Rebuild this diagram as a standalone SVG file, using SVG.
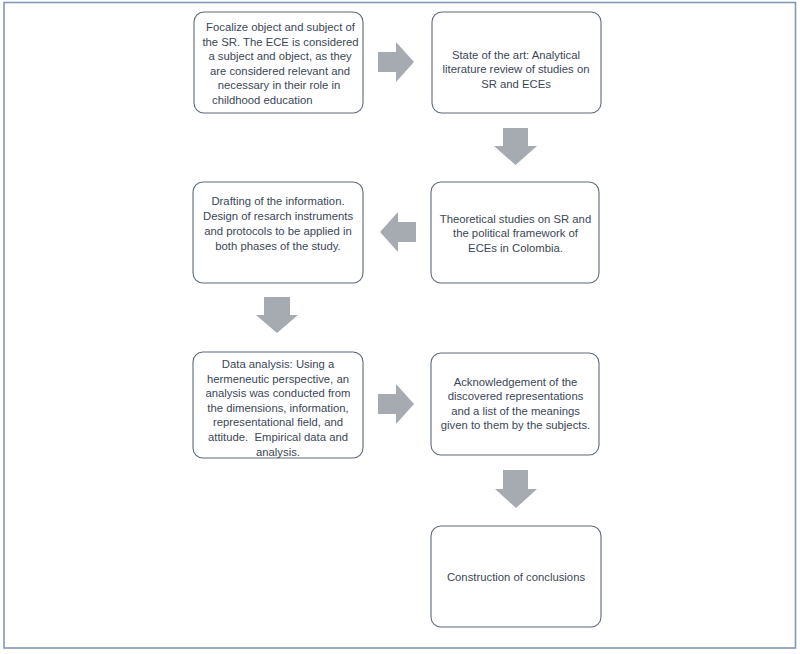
<svg xmlns="http://www.w3.org/2000/svg" width="800" height="654" viewBox="0 0 800 654">
<style>
.box{fill:#ffffff;stroke:#5f6b78;stroke-width:1.1}
.t{font-family:"Liberation Sans",Arial,sans-serif;font-size:11.3px;fill:#3b4756;text-anchor:middle}
.arr{fill:#a6abb1}
</style>
<rect x="0" y="0" width="800" height="654" fill="#ffffff"/>
<rect x="4" y="2.5" width="791.5" height="645.5" fill="none" stroke="#8296b8" stroke-width="1.6"/>
<g id="connectors">
<polygon class="arr" points="378,52 396,52 396,42 414,62 396,82 396,72 378,72"/>
<polygon class="arr" points="503,128 528,128 528,146 537,146 515.5,165 494,146 503,146"/>
<polygon class="arr" points="416,222 398,222 398,212 380,232 398,252 398,242 416,242"/>
<polygon class="arr" points="264,297 290,297 290,315 298,315 277,333 256,315 264,315"/>
<polygon class="arr" points="378,394 396,394 396,384 414,404 396,424 396,414 378,414"/>
<polygon class="arr" points="503,470 528,470 528,489 537,489 516,508 495,489 503,489"/>
</g>
<g id="n1">
<rect class="box" x="194" y="12" width="169" height="101" rx="10"/>
<text class="t" x="280.5" y="31">Focalize object and subject of</text>
<text class="t" x="280.5" y="45.6">the SR. The ECE is considered</text>
<text class="t" x="280" y="60.2">a subject and object, as they</text>
<text class="t" x="280" y="74.8">are considered relevant and</text>
<text class="t" x="279" y="89.4">necessary in their role in</text>
<text class="t" x="212" y="104" style="text-anchor:start">childhood education</text>
</g>
<g id="n2">
<rect class="box" x="432" y="12" width="169" height="101" rx="10"/>
<text class="t" x="516" y="58.5">State of the art: Analytical</text>
<text class="t" x="516" y="73">literature review of studies on</text>
<text class="t" x="516" y="87.5">SR and ECEs</text>
</g>
<g id="n3">
<rect class="box" x="431" y="182" width="168" height="101" rx="10"/>
<text class="t" x="515.5" y="222.5">Theoretical studies on SR and</text>
<text class="t" x="515.5" y="237">the political framework of</text>
<text class="t" x="515.5" y="251.5">ECEs in Colombia.</text>
</g>
<g id="n4">
<rect class="box" x="193" y="182" width="170" height="101" rx="10"/>
<text class="t" x="278" y="205">Drafting of the information.</text>
<text class="t" x="278" y="220">Design of resarch instruments</text>
<text class="t" x="278" y="235">and protocols to be applied in</text>
<text class="t" x="278" y="250">both phases of the study.</text>
</g>
<g id="n5">
<rect class="box" x="193" y="352" width="170" height="106" rx="10"/>
<text class="t" x="278" y="368">Data analysis: Using a</text>
<text class="t" x="278" y="382.6">hermeneutic perspective, an</text>
<text class="t" x="278" y="397.2">analysis was conducted from</text>
<text class="t" x="278" y="411.8">the dimensions, information,</text>
<text class="t" x="278" y="426.4">representational field, and</text>
<text class="t" x="278" y="441" xml:space="preserve">attitude.  Empirical data and</text>
<text class="t" x="278" y="455.6">analysis.</text>
</g>
<g id="n6">
<rect class="box" x="431" y="353" width="168" height="102" rx="10"/>
<text class="t" x="515.5" y="385.5">Acknowledgement of the</text>
<text class="t" x="515.5" y="400.1">discovered representations</text>
<text class="t" x="515.5" y="414.7">and a list of the meanings</text>
<text class="t" x="515.5" y="429.3">given to them by the subjects.</text>
</g>
<g id="n7">
<rect class="box" x="431" y="526" width="170" height="101" rx="10"/>
<text class="t" x="516" y="581">Construction of conclusions</text>
</g>
</svg>
